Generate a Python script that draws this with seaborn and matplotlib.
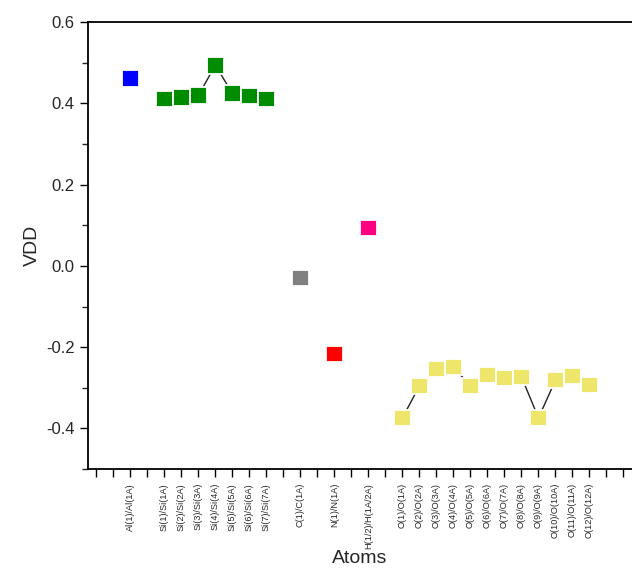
import numpy as np
import pandas as pd
import seaborn as sns
import matplotlib.pyplot as plt

sns.set_style("ticks")
plt.rcParams["font.family"] = ["Liberation Sans", "DejaVu Sans"]

# atom labels and their slot on the x axis
atoms = ["Al(1)/Al(1A)",
         "Si(1)/Si(1A)", "Si(2)/Si(2A)", "Si(3)/Si(3A)", "Si(4)/Si(4A)",
         "Si(5)/Si(5A)", "Si(6)/Si(6A)", "Si(7)/Si(7A)",
         "C(1)/C(1A)", "N(1)/N(1A)", "H(1/2)/H(1A/2A)",
         "O(1)/O(1A)", "O(2)/O(2A)", "O(3)/O(3A)", "O(4)/O(4A)", "O(5)/O(5A)",
         "O(6)/O(6A)", "O(7)/O(7A)", "O(8)/O(8A)", "O(9)/O(9A)",
         "O(10)/O(10A)", "O(11)/O(11A)", "O(12)/O(12A)"]
slots = [3, 5, 6, 7, 8, 9, 10, 11, 13, 15, 17,
         19, 20, 21, 22, 23, 24, 25, 26, 27, 28, 29, 30]
groups = ["Al"] + ["Si"] * 7 + ["C", "N", "H"] + ["O"] * 12
vdd = [0.462,
       0.411, 0.415, 0.420, 0.494, 0.425, 0.418, 0.411,
       -0.030, -0.217, 0.093,
       -0.374, -0.295, -0.254, -0.249, -0.295, -0.268,
       -0.276, -0.273, -0.374, -0.281, -0.271, -0.293]
palette = {"Al": "#0000ff", "Si": "#008c00", "C": "#808080",
           "N": "#ff0000", "H": "#ff0080", "O": "#eee66b"}

df = pd.DataFrame({"atom": atoms, "x": slots, "group": groups, "VDD": vdd})

fig = plt.figure(figsize=(6.32, 5.70), dpi=100)
ax = fig.add_axes([0.139, 0.177, 0.861, 0.784])

# thin connecting lines within Si and O groups
for g in ["Si", "O"]:
    sub = df[df.group == g]
    sns.lineplot(data=sub, x="x", y="VDD", color="#222222", lw=1.0,
                 ax=ax, zorder=1, sort=False)

sns.scatterplot(data=df, x="x", y="VDD", hue="group", palette=palette,
                marker="s", s=140, edgecolor="white", linewidth=1.3,
                legend=False, ax=ax, zorder=3)

ax.set_xlim(0.5, 32.5)
ax.set_ylim(-0.5, 0.6)
ax.set_yticks([-0.4, -0.2, 0.0, 0.2, 0.4, 0.6])
ax.set_yticklabels(["-0.4", "-0.2", "0.0", "0.2", "0.4", "0.6"], fontsize=12)
ax.set_yticks(np.arange(-0.5, 0.6, 0.1), minor=True)

ticks = list(range(1, 33))
labels = ["" for _ in ticks]
for s, a in zip(slots, atoms):
    labels[s - 1] = a
ax.set_xticks(ticks)
ax.set_xticklabels(labels, rotation=90, fontsize=6.6)

ax.tick_params(axis="both", which="major", direction="out", length=6,
               width=1, color="black")
ax.tick_params(axis="y", which="minor", direction="out", length=4, width=1)
ax.tick_params(axis="x", which="major", pad=4)

for side in ["top", "left", "bottom"]:
    ax.spines[side].set_color("black")
    ax.spines[side].set_linewidth(1.3)
ax.spines["right"].set_visible(False)

ax.set_xlabel("Atoms", fontsize=14, labelpad=1)
ax.set_ylabel("VDD", fontsize=14, labelpad=4)

fig.savefig("out.png", dpi=100)
